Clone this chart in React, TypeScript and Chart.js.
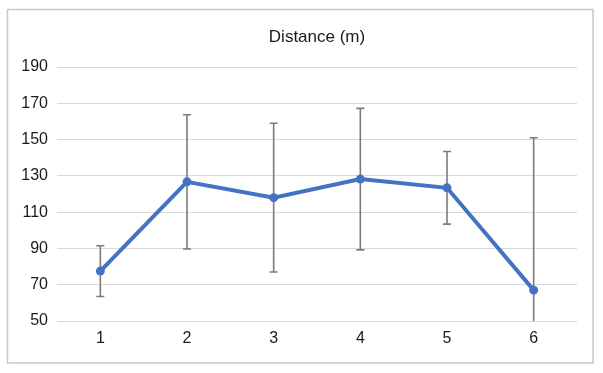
import React, { useEffect, useRef } from "react";
import { Chart, registerables } from "chart.js";

Chart.register(...registerables);

const categories = ["1", "2", "3", "4", "5", "6"];
const distanceValues = [77.5, 126.7, 118, 128.2, 123.4, 67];
const errorPlus = [14, 37, 41, 39, 20, 84];
const errorMinus = [14, 37, 41, 39, 20, 84];
const yMin = 50;
const yMax = 190;
const yStep = 20;
const chartTitle = "Distance (m)";

const FONT = "'Liberation Sans', Arial, Helvetica, sans-serif";

const errorBarPlugin = {
  id: "errorBars",
  beforeDatasetsDraw(chart: any) {
    const ctx = chart.ctx;
    const xs = chart.scales.x;
    const ys = chart.scales.y;
    const area = chart.chartArea;
    ctx.save();
    ctx.strokeStyle = "#7b7b7b";
    ctx.lineWidth = 1.6;
    const cap = 4;
    distanceValues.forEach((v, i) => {
      const x = xs.getPixelForValue(i);
      const hiV = v + errorPlus[i];
      const loV = v - errorMinus[i];
      const yHi = Math.max(ys.getPixelForValue(hiV), area.top);
      const yLo = Math.min(ys.getPixelForValue(loV), area.bottom);
      ctx.beginPath();
      ctx.moveTo(x, yHi);
      ctx.lineTo(x, yLo);
      if (hiV <= yMax) {
        ctx.moveTo(x - cap, yHi);
        ctx.lineTo(x + cap, yHi);
      }
      if (loV >= yMin) {
        ctx.moveTo(x - cap, yLo);
        ctx.lineTo(x + cap, yLo);
      }
      ctx.stroke();
    });
    ctx.restore();
  },
};

const titleAndBorderPlugin = {
  id: "titleAndBorder",
  afterDraw(chart: any) {
    const ctx = chart.ctx;
    const area = chart.chartArea;
    ctx.save();
    ctx.strokeStyle = "#c8c8c8";
    ctx.lineWidth = 1.5;
    ctx.strokeRect(7.5, 9.5, 585.5, 353.5);
    ctx.fillStyle = "#1a1a1a";
    ctx.font = `17px ${FONT}`;
    ctx.textAlign = "center";
    ctx.textBaseline = "middle";
    ctx.fillText(chartTitle, (area.left + area.right) / 2, 37);
    ctx.restore();
  },
};

export default function App() {
  const canvasRef = useRef<HTMLCanvasElement | null>(null);

  useEffect(() => {
    document.body.style.margin = "0";
    const canvas = canvasRef.current;
    if (!canvas) return;
    const chart = new Chart(canvas, {
      type: "line",
      data: {
        labels: categories,
        datasets: [
          {
            label: chartTitle,
            data: distanceValues,
            borderColor: "#4472C4",
            backgroundColor: "#4472C4",
            borderWidth: 4,
            pointRadius: 4.5,
            pointBorderWidth: 0,
            pointBackgroundColor: "#4472C4",
            tension: 0,
          },
        ],
      },
      options: {
        responsive: false,
        animation: false,
        devicePixelRatio: 1,
        layout: { padding: { left: 0, right: 26, top: 67, bottom: 0 } },
        plugins: {
          legend: { display: false },
          tooltip: { enabled: false },
          title: { display: false },
        },
        scales: {
          x: {
            type: "category",
            offset: true,
            grid: { display: false, drawTicks: false },
            border: { display: false },
            ticks: {
              color: "#1a1a1a",
              font: { family: FONT, size: 16 },
              padding: 8,
            },
            afterFit(scale: any) {
              scale.height = 52;
            },
          },
          y: {
            min: yMin,
            max: yMax,
            grid: { color: "#d9d9d9", lineWidth: 1, drawTicks: false },
            border: { display: false },
            ticks: {
              stepSize: yStep,
              color: "#1a1a1a",
              font: { family: FONT, size: 16 },
              padding: 9,
            },
            afterFit(scale: any) {
              scale.width = 57;
            },
          },
        },
      },
      plugins: [errorBarPlugin, titleAndBorderPlugin],
    });
    return () => chart.destroy();
  }, []);

  return (
    <div style={{ width: 603, height: 373, background: "#fff" }}>
      <canvas ref={canvasRef} width={603} height={373} />
    </div>
  );
}
